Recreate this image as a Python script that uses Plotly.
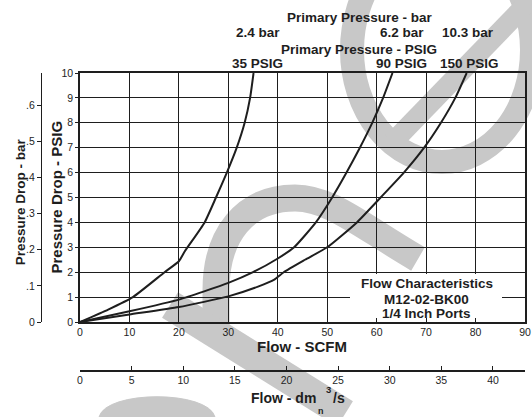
import plotly.graph_objects as go

# ---------------- data ----------------
scfm_35 = [0, 5.7, 10.7, 17.1, 20.0, 21.2, 25.2, 27.5, 29.7, 31.7, 33.3, 34.4, 35.1]
psig_35 = [0, 0.5, 1.0, 2.0, 2.44, 2.84, 4.0, 5.0, 6.0, 7.0, 8.0, 9.0, 10.0]

scfm_90 = [0, 10, 20, 30, 35.0, 40.0, 43.3, 47.7, 51.0, 53.9, 56.6, 59.1, 61.3, 63.2]
psig_90 = [0, 0.43, 0.9, 1.57, 2.0, 2.55, 3.0, 4.0, 5.0, 6.0, 7.0, 8.0, 9.0, 10.0]

scfm_150 = [0, 10, 20, 30, 36.0, 39.3, 41.2, 45.5, 50.0, 56.0, 60.8, 65.5, 69.6, 73.0, 75.9, 78.2]
psig_150 = [0, 0.3, 0.6, 1.03, 1.42, 1.7, 2.0, 2.5, 3.0, 4.0, 5.0, 6.0, 7.0, 8.0, 9.0, 10.0]

bar_labels = ["2.4 bar", "6.2 bar", "10.3 bar"]
psig_labels = ["35 PSIG", "90 PSIG", "150 PSIG"]

scfm_ticks = [0, 10, 20, 30, 40, 50, 60, 70, 80, 90]
psig_ticks = [0, 1, 2, 3, 4, 5, 6, 7, 8, 9, 10]
bar_ticks = [0, 0.1, 0.2, 0.3, 0.4, 0.5, 0.6]
bar_tick_text = ["0", ".1", ".2", ".3", ".4", ".5", ".6"]
dm_ticks = [0, 5, 10, 15, 20, 25, 30, 35, 40]

box_lines = ["Flow Characteristics", "M12-02-BK00", "1/4 Inch Ports"]

PSI_PER_BAR = 14.5038
DM_RANGE_MAX = 43.1           # dm3/s at the right end of the plot (as drawn)
DM_PER_SCFM = 0.4719

# ---------------- layout helpers ----------------
W, H = 532, 417
ML, MR, MT, MB = 10, 7, 73, 0
PW = W - ML - MR
PH = H - MT - MB
INK = "#1e1e1e"
GRAY = "#c8c8c8"
FONT = "Liberation Sans, Arial, Helvetica, sans-serif"


def px(x):
    return (x - ML) / PW


def py(y):
    return (H - MB - y) / PH


def path(cmds):
    out = []
    for letter, pts in cmds:
        out.append(letter + " " + " ".join(f"{px(a):.5f},{py(b):.5f}" for a, b in pts))
    return " ".join(out)


fig = go.Figure()

for xs, ys in [(scfm_35, psig_35), (scfm_90, psig_90), (scfm_150, psig_150)]:
    fig.add_trace(go.Scatter(
        x=xs, y=ys, mode="lines",
        line=dict(color=INK, width=2, shape="spline", smoothing=0.5),
        hoverinfo="skip", showlegend=False))

# invisible companions so the secondary (bar, dm3/s) axes are drawn
fig.add_trace(go.Scatter(
    x=scfm_35, y=[p / PSI_PER_BAR for p in psig_35], yaxis="y2",
    mode="lines", line=dict(width=0), opacity=0, hoverinfo="skip", showlegend=False))
fig.add_trace(go.Scatter(
    x=[s * DM_PER_SCFM for s in scfm_35], y=psig_35, xaxis="x2",
    mode="lines", line=dict(width=0), opacity=0, hoverinfo="skip", showlegend=False))

shapes = [
    # watermark (drawn beneath everything)
    dict(type="circle", xref="paper", yref="paper", layer="below",
         x0=px(352), x1=px(532), y0=py(162), y1=py(-62),
         line=dict(color=GRAY, width=24), fillcolor="rgba(0,0,0,0)"),
    dict(type="line", xref="paper", yref="paper", layer="below",
         x0=px(393), y0=py(142), x1=px(545), y1=py(-15),
         line=dict(color=GRAY, width=20)),
    dict(type="path", xref="paper", yref="paper", layer="below",
         path=path([("M", [(216, 340)]), ("L", [(216, 290)]),
                    ("C", [(216, 235), (245, 198), (295, 198)]),
                    ("C", [(330, 198), (360, 225), (418, 259)])]),
         line=dict(color=GRAY, width=27), fillcolor="rgba(0,0,0,0)"),
    dict(type="line", xref="paper", yref="paper", layer="below",
         x0=px(170), y0=py(305), x1=px(345), y1=py(414),
         line=dict(color=GRAY, width=30)),
    dict(type="path", xref="paper", yref="paper", layer="below",
         path=path([("M", [(99, 417)]),
                    ("C", [(106, 390), (208, 390), (215, 417)])]) + " Z",
         line=dict(color=GRAY, width=1), fillcolor=GRAY),
    # white panel behind the characteristics text
    dict(type="rect", xref="paper", yref="paper", layer="above",
         x0=px(350), x1=px(502), y0=py(318), y1=py(274),
         line=dict(width=0), fillcolor="white"),
]


def ann(text, x, y, size, anchor="center", angle=0, bold=True):
    return dict(text=text, x=px(x), y=py(y), xref="paper", yref="paper",
                xanchor=anchor, yanchor="middle", showarrow=False, textangle=angle,
                font=dict(family=FONT, size=size, color=INK,
                          weight="bold" if bold else "normal"))


annotations = [
    ann("Primary Pressure - bar", 360, 17.3, 13.5),
    ann(bar_labels[0], 257.6, 32.5, 13.5),
    ann(bar_labels[1], 401.5, 32.5, 13.5),
    ann(bar_labels[2], 468, 32.5, 13.5),
    ann("Primary Pressure - PSIG", 358.5, 49.5, 13.5),
    ann(psig_labels[0], 257.6, 63.5, 13.5),
    ann(psig_labels[1], 401.5, 63.5, 13.5),
    ann(psig_labels[2], 469, 63.5, 13.5),
    ann(box_lines[0], 427, 283.3, 13.5),
    ann(box_lines[1], 426.5, 299, 13.5),
    ann(box_lines[2], 426.5, 313.5, 13.5),
    ann("Flow - SCFM", 302, 346, 15),
    ann("Pressure Drop - PSIG", 56, 197.5, 15, angle=-90),
    ann("Pressure Drop - bar", 20.5, 201.7, 13.5, angle=-90),
    ann("Flow - dm", 318.3, 398.3, 14, anchor="right"),
    ann("3", 328.2, 389, 9.5),
    ann("/s", 331.2, 398.3, 14, anchor="left"),
    ann("n", 321, 410.5, 9),
]

fig.update_layout(
    template="none",
    width=W, height=H,
    margin=dict(l=ML, r=MR, t=MT, b=MB, pad=0),
    paper_bgcolor="white", plot_bgcolor="rgba(0,0,0,0)",
    font=dict(family=FONT, size=10.5, color=INK),
    showlegend=False,
    xaxis=dict(domain=[px(80), 1], range=[0, 90], tickvals=scfm_ticks,
               showgrid=True, gridcolor=INK, gridwidth=1,
               showline=True, linecolor=INK, linewidth=1.5, mirror=True,
               ticks="", zeroline=False, automargin=False,
               tickfont=dict(family=FONT, size=10.5, color=INK)),
    yaxis=dict(domain=[py(322), 1], range=[0, 10], tickvals=psig_ticks,
               showgrid=True, gridcolor=INK, gridwidth=1,
               showline=True, linecolor=INK, linewidth=1.5, mirror=True,
               ticks="outside", ticklen=3, tickcolor=INK, tickwidth=1,
               zeroline=False, automargin=False,
               tickfont=dict(family=FONT, size=10.5, color=INK)),
    xaxis2=dict(overlaying="x", anchor="free", position=py(371), side="bottom",
                range=[0, DM_RANGE_MAX], tickvals=dm_ticks,
                showgrid=False, zeroline=False, showline=True,
                linecolor=INK, linewidth=1.5,
                ticks="inside", ticklen=4, tickcolor=INK, tickwidth=1,
                automargin=False,
                tickfont=dict(family=FONT, size=10.5, color=INK)),
    yaxis2=dict(overlaying="y", anchor="free", position=px(41), side="left",
                range=[0, 10 / PSI_PER_BAR], tickvals=bar_ticks, ticktext=bar_tick_text,
                showgrid=False, zeroline=False, showline=True,
                linecolor=INK, linewidth=1.2,
                ticks="outside", ticklen=4, tickcolor=INK, tickwidth=1,
                automargin=False,
                tickfont=dict(family=FONT, size=10.5, color=INK)),
    shapes=shapes,
    annotations=annotations,
)

fig.write_html("out.html",
               config={"displayModeBar": False},
               post_script="document.body.style.margin='0px';"
                           "document.body.style.overflow='hidden';")
